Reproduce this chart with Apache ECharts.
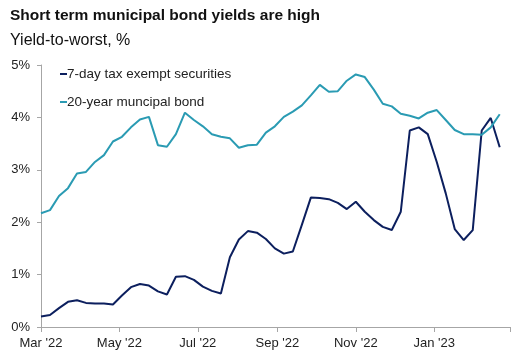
<!DOCTYPE html>
<html><head><meta charset="utf-8">
<script src="https://cdn.jsdelivr.net/npm/echarts@6/dist/echarts.min.js"></script>
<style>html,body{margin:0;padding:0;background:#fff}#c{width:512px;height:357px}</style>
</head><body><div id="c"></div>
<script>
const weekDates = [
  '2022-03-01','2022-03-08','2022-03-15','2022-03-22','2022-03-29',
  '2022-04-05','2022-04-12','2022-04-19','2022-04-26',
  '2022-05-03','2022-05-10','2022-05-17','2022-05-24','2022-05-31',
  '2022-06-07','2022-06-14','2022-06-21','2022-06-28',
  '2022-07-05','2022-07-12','2022-07-19','2022-07-26',
  '2022-08-02','2022-08-09','2022-08-16','2022-08-23','2022-08-30',
  '2022-09-06','2022-09-13','2022-09-20','2022-09-27',
  '2022-10-04','2022-10-11','2022-10-18','2022-10-25',
  '2022-11-01','2022-11-08','2022-11-15','2022-11-22','2022-11-29',
  '2022-12-06','2022-12-13','2022-12-20','2022-12-27',
  '2023-01-03','2023-01-10','2023-01-17','2023-01-24','2023-01-31',
  '2023-02-07','2023-02-14','2023-02-21'
];
const sevenDay = [0.20,0.23,0.36,0.48,0.51,0.46,0.45,0.45,0.43,0.60,0.76,0.82,0.79,0.68,0.62,0.96,0.97,0.90,0.77,0.69,0.64,1.33,1.67,1.83,1.80,1.68,1.50,1.40,1.44,1.95,2.47,2.46,2.44,2.37,2.25,2.39,2.20,2.04,1.91,1.85,2.20,3.75,3.81,3.68,3.15,2.55,1.87,1.66,1.85,3.75,3.99,3.43];
const twentyYear = [2.17,2.23,2.50,2.65,2.93,2.96,3.15,3.28,3.54,3.63,3.81,3.96,4.01,3.47,3.44,3.68,4.09,3.95,3.83,3.68,3.63,3.60,3.42,3.47,3.48,3.71,3.83,4.01,4.11,4.23,4.42,4.62,4.49,4.50,4.70,4.82,4.77,4.53,4.26,4.21,4.07,4.03,3.98,4.09,4.14,3.95,3.76,3.68,3.68,3.67,3.81,4.06];
const tickDates = ['2022-03-01','2022-05-01','2022-07-01','2022-09-01','2022-11-01','2023-01-01','2023-03-01'];
const tickLabels = ["Mar '22","May '22","Jul '22","Sep '22","Nov '22","Jan '23",""];
const seriesNames = ['7-day tax exempt securities','20-year muncipal bond'];

function ts(s){const p=s.split('-').map(Number);return Date.UTC(p[0],p[1]-1,p[2]);}
const tickTs = tickDates.map(ts);
const labelTs = tickTs.filter((t,i)=>tickLabels[i]!=='');
const FONT = 'Liberation Sans';
const COLORS = ['#0c1f5e','#2a9bb3'];

const chart = echarts.init(document.getElementById('c'), null, {renderer:'canvas'});
chart.setOption({
  animation:false,
  backgroundColor:'#fff',
  textStyle:{fontFamily:FONT},
  title:[
    {text:'Short term municipal bond yields are high',left:5,top:3,
     textStyle:{fontSize:15.5,fontWeight:'bold',color:'#111',fontFamily:FONT}},
    {text:'Yield-to-worst, %',left:5,top:28,
     textStyle:{fontSize:16,fontWeight:'normal',color:'#111',fontFamily:FONT}}
  ],
  legend:{
    orient:'vertical',left:50,top:62,itemGap:14,itemWidth:0,itemHeight:2,
    icon:'rect',
    formatter:function(name){return '{m'+seriesNames.indexOf(name)+'|}'+name;},
    textStyle:{fontSize:13.5,color:'#222',fontFamily:FONT,
      rich:{
        m0:{width:7,height:2,backgroundColor:COLORS[0],verticalAlign:'middle'},
        m1:{width:7,height:2,backgroundColor:COLORS[1],verticalAlign:'middle'}
      }},
    data:seriesNames
  },
  grid:{left:41,right:2,top:65,bottom:30,containLabel:false},
  xAxis:{
    type:'value',
    min:tickTs[0],max:tickTs[tickTs.length-1],
    axisLine:{show:true,lineStyle:{color:'#a6a6a6',width:1}},
    axisTick:{show:true,length:5,lineStyle:{color:'#a6a6a6'},customValues:tickTs},
    axisLabel:{customValues:labelTs,fontSize:13,color:'#222',margin:10,fontFamily:FONT,
      formatter:function(v){const i=tickTs.indexOf(+v);return i>=0?tickLabels[i]:'';}},
    splitLine:{show:false}
  },
  yAxis:{
    type:'value',min:0,max:5,interval:1,
    axisLine:{show:true,lineStyle:{color:'#a6a6a6',width:1}},
    axisTick:{show:true,length:4,lineStyle:{color:'#a6a6a6'}},
    axisLabel:{formatter:'{value}%',fontSize:13,color:'#222',margin:11,fontFamily:FONT},
    splitLine:{show:false}
  },
  series:[
    {name:seriesNames[0],type:'line',showSymbol:false,symbol:'none',
     data:weekDates.map((d,i)=>[ts(d),sevenDay[i]]),
     lineStyle:{width:2,color:COLORS[0]},itemStyle:{color:COLORS[0]}},
    {name:seriesNames[1],type:'line',showSymbol:false,symbol:'none',
     data:weekDates.map((d,i)=>[ts(d),twentyYear[i]]),
     lineStyle:{width:2,color:COLORS[1]},itemStyle:{color:COLORS[1]}}
  ]
});
</script>
</body></html>
